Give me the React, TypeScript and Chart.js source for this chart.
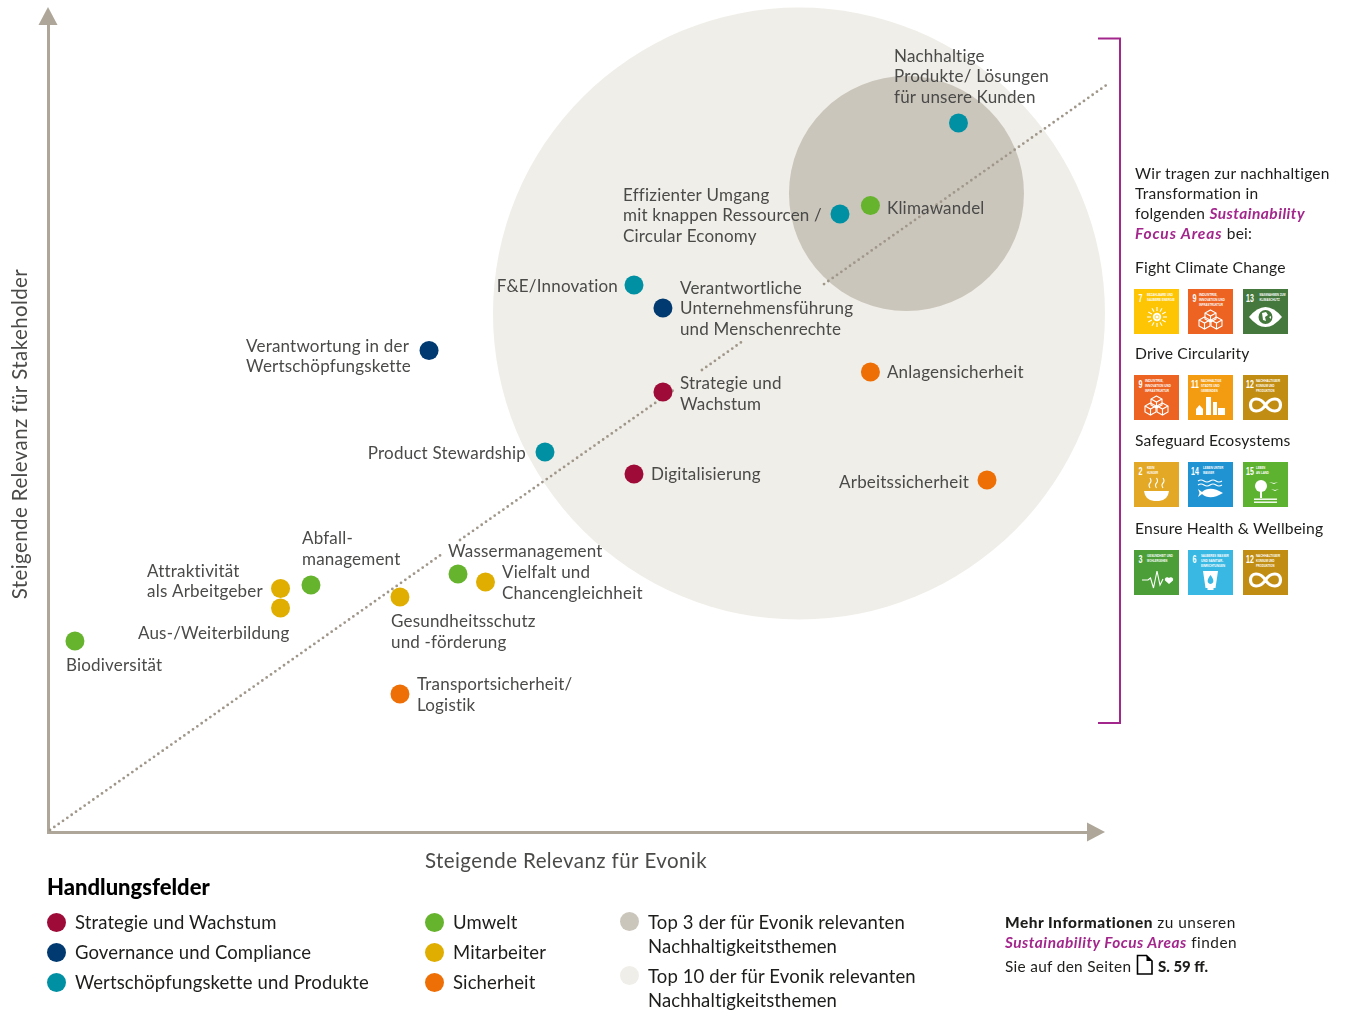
import React, { useEffect, useRef } from "react";
import { Chart, registerables } from "chart.js";

Chart.register(...registerables);

// ---- data (x: Relevanz für Evonik, y: Relevanz für Stakeholder) ----
const fieldNames = ["Strategie und Wachstum", "Governance und Compliance", "Wertschöpfungskette und Produkte", "Umwelt", "Mitarbeiter", "Sicherheit"];

const strategiePoints = [[58.18, 53.4], [55.44, 43.45]];
const strategieLabels = [["Strategie und", "Wachstum"], ["Digitalisierung"]];

const governancePoints = [[58.18, 63.59], [36.05, 58.43]];
const governanceLabels = [["Verantwortliche", "Unternehmensführung", "und Menschenrechte"], ["Verantwortung in der", "Wertschöpfungskette"]];

const wertschoepfungPoints = [[86.14, 86.04], [74.93, 75.0], [55.44, 66.38], [47.02, 46.12]];
const wertschoepfungLabels = [["Nachhaltige", "Produkte/ Lösungen", "für unsere Kunden"], ["Effizienter Umgang", "mit knappen Ressourcen /", "Circular Economy"], ["F&E/Innovation"], ["Product Stewardship"]];

const umweltPoints = [[77.81, 76.03], [38.79, 31.31], [24.88, 29.98], [2.55, 23.18]];
const umweltLabels = [["Klimawandel"], ["Wassermanagement"], ["Abfall-", "management"], ["Biodiversität"]];

const mitarbeiterPoints = [[41.39, 30.34], [22.0, 29.55], [22.0, 27.18], [33.3, 28.52]];
const mitarbeiterLabels = [["Vielfalt und", "Chancengleichheit"], ["Attraktivität", "als Arbeitgeber"], ["Aus-/Weiterbildung"], ["Gesundheitsschutz", "und -förderung"]];

const sicherheitPoints = [[77.81, 55.83], [88.84, 42.72], [33.3, 16.75]];
const sicherheitLabels = [["Anlagensicherheit"], ["Arbeitssicherheit"], ["Transportsicherheit/", "Logistik"]];

const top10Circle = [71.05, 62.92];
const top10Radius = 306;
const top3Circle = [81.22, 77.49];
const top3Radius = 117.5;

const diagonalSegments = [
  [[0.19, 0.24], [37.28, 33.74]],
  [[38.98, 35.44], [59.32, 53.76]],
  [[61.87, 56.07], [65.75, 59.59]],
  [[73.42, 66.5], [100.28, 90.78]],
];

const xAxisTitle = "Steigende Relevanz für Evonik";
const yAxisTitle = "Steigende Relevanz für Stakeholder";
const legendTitle = "Handlungsfelder";
const top3Legend = ["Top 3 der für Evonik relevanten", "Nachhaltigkeitsthemen"];
const top10Legend = ["Top 10 der für Evonik relevanten", "Nachhaltigkeitsthemen"];

const focusAreas = ["Fight Climate Change", "Drive Circularity", "Safeguard Ecosystems", "Ensure Health & Wellbeing"];
const focusGoals = [[7, 9, 13], [9, 11, 12], [2, 14, 15], [3, 6, 12]];
const goalTexts: Record<number, string[]> = {
  2: ["KEIN", "HUNGER"],
  3: ["GESUNDHEIT UND", "WOHLERGEHEN"],
  6: ["SAUBERES WASSER", "UND SANITÄR-", "EINRICHTUNGEN"],
  7: ["BEZAHLBARE UND", "SAUBERE ENERGIE"],
  9: ["INDUSTRIE,", "INNOVATION UND", "INFRASTRUKTUR"],
  11: ["NACHHALTIGE", "STÄDTE UND", "GEMEINDEN"],
  12: ["NACHHALTIGE/R", "KONSUM UND", "PRODUKTION"],
  13: ["MASSNAHMEN ZUM", "KLIMASCHUTZ"],
  14: ["LEBEN UNTER", "WASSER"],
  15: ["LEBEN", "AN LAND"],
};

// ---- styles ----
const fieldColors = ["#9e0b38", "#003a70", "#0090a3", "#66b32e", "#dfae00", "#ee6f05"];
const goalColors: Record<number, string> = { 2: "#e3a826", 3: "#4c9f38", 6: "#38b8e2", 7: "#fdc503", 9: "#ec6322", 11: "#f39c12", 12: "#c18d12", 13: "#44783c", 14: "#2093d3", 15: "#5db22f" };
const goalTextX: Record<number, number> = { 9: 11, 13: 16.5, 14: 15 };
const AXIS = "#aea698";
const TOP10 = "#f0eee8";
const TOP3 = "#cbc6bc";
const PURPLE = "#a3268c";
const LABEL = "#4a4a49";
const INK = "#1d1d1b";
const FONT = "Lato, 'Open Sans', sans-serif";

// label offsets from the point, in pixels: dx, dy of first line, text align
const placements: [number, number, "left" | "right"][][] = [
  [[17, -9, "left"], [17, 0, "left"]],
  [[17, -21, "left"], [-183, -5.5, "left"]],
  [[-64.5, -68, "left"], [-217, -20, "left"], [-16, 0, "right"], [-19, 1, "right"]],
  [[16.5, 1.5, "left"], [-10, -23, "left"], [-9, -47, "left"], [-9, 24, "left"]],
  [[16.5, -10, "left"], [-133.5, -18.5, "left"], [9, 24, "right"], [-9, 24, "left"]],
  [[16.5, 0, "left"], [-18, 2, "right"], [17, -10, "left"]],
];
const allPoints = [strategiePoints, governancePoints, wertschoepfungPoints, umweltPoints, mitarbeiterPoints, sicherheitPoints];
const allLabels = [strategieLabels, governanceLabels, wertschoepfungLabels, umweltLabels, mitarbeiterLabels, sicherheitLabels];

const overlay = {
  id: "overlay",
  afterDatasetsDraw(chart: any) {
    const { ctx, scales, chartArea } = chart;
    const X = scales.x, Y = scales.y;
    ctx.save();
    // arrow heads
    ctx.fillStyle = AXIS;
    const ox = chartArea.left, oy = chartArea.bottom;
    ctx.beginPath();
    ctx.moveTo(ox - 9.5, chartArea.top);
    ctx.lineTo(ox + 9.5, chartArea.top);
    ctx.lineTo(ox, chartArea.top - 18);
    ctx.closePath();
    ctx.fill();
    ctx.beginPath();
    ctx.moveTo(chartArea.right, oy - 9.5);
    ctx.lineTo(chartArea.right, oy + 9.5);
    ctx.lineTo(chartArea.right + 18, oy);
    ctx.closePath();
    ctx.fill();
    // bracket
    ctx.strokeStyle = PURPLE;
    ctx.lineWidth = 2;
    ctx.beginPath();
    ctx.moveTo(1098, 38.5);
    ctx.lineTo(1120, 38.5);
    ctx.lineTo(1120, 723);
    ctx.lineTo(1098, 723);
    ctx.stroke();
    // point labels
    ctx.fillStyle = LABEL;
    ctx.textBaseline = "middle";
    ctx.font = `17px ${FONT}`;
    ctx.letterSpacing = "0.2px";
    allPoints.forEach((pts, f) =>
      pts.forEach((p, i) => {
        const [dx, dy, align] = placements[f][i];
        ctx.textAlign = align;
        allLabels[f][i].forEach((line, l) => {
          ctx.fillText(line, X.getPixelForValue(p[0]) + dx, Y.getPixelForValue(p[1]) + dy + 1 + l * 20.7);
        });
      })
    );
    // axis titles
    ctx.font = `20.5px ${FONT}`;
    ctx.letterSpacing = "0.4px";
    ctx.textAlign = "center";
    ctx.fillText(xAxisTitle, 566, 861);
    ctx.translate(20, 434);
    ctx.rotate(-Math.PI / 2);
    ctx.fillText(yAxisTitle, 0, 0);
    ctx.restore();
  },
};

const abs = (left: number, cy: number, size: number, extra: any = {}) => ({
  position: "absolute" as const,
  left,
  top: cy - size * 0.75,
  lineHeight: `${size * 1.5}px`,
  fontSize: size,
  fontFamily: FONT,
  color: INK,
  whiteSpace: "nowrap" as const,
  ...extra,
});

function Dot({ cx, cy, color }: { cx: number; cy: number; color: string }) {
  return <div style={{ position: "absolute", left: cx - 9.5, top: cy - 9.5, width: 19, height: 19, borderRadius: "50%", background: color }} />;
}

function GoalIcon({ goal }: { goal: number }) {
  const w = { fill: "#fff" };
  const s = { fill: "none", stroke: "#fff", strokeWidth: 1.1 };
  if (goal === 7)
    return (
      <g>
        <circle cx="23" cy="28" r="4.2" {...w} />
        <circle cx="23" cy="28" r="2" fill="none" stroke="#fdc503" strokeWidth="0.7" />
        <g stroke="#fff" strokeWidth="1.1">
          {[0, 30, 60, 90, 120, 150, 180, 210, 240, 270, 300, 330].map((a) => (
            <line key={a} x1={23 + 6 * Math.cos((a * Math.PI) / 180)} y1={28 + 6 * Math.sin((a * Math.PI) / 180)} x2={23 + 10 * Math.cos((a * Math.PI) / 180)} y2={28 + 10 * Math.sin((a * Math.PI) / 180)} />
          ))}
        </g>
      </g>
    );
  if (goal === 9)
    return (
      <g {...s}>
        {[[22.5, 25], [16.5, 32], [28.5, 32]].map(([x, y]) => (
          <g key={`${x}${y}`}>
            <path d={`M${x} ${y - 4}l5.5 3v6l-5.5 3l-5.5-3v-6z`} />
            <path d={`M${x - 5.5} ${y - 1}l5.5 3l5.5-3M${x} ${y + 2}v6`} />
          </g>
        ))}
      </g>
    );
  if (goal === 13)
    return (
      <g>
        <path d="M6 28Q22.5 8 39 28Q22.5 48 6 28z" {...w} />
        <circle cx="22.5" cy="28" r="7" fill="#44783c" />
        <path d="M19 24l4-1l2 3l-3 2l1 4l-3-1zM26 28l2-1v3z" {...w} />
      </g>
    );
  if (goal === 11)
    return (
      <g {...w}>
        <rect x="8" y="34" width="7" height="6" />
        <path d="M8 34l3.5-4l3.5 4z" />
        <rect x="18" y="22" width="5" height="18" />
        <rect x="25" y="27" width="4" height="13" />
        <rect x="30" y="33" width="7" height="7" />
      </g>
    );
  if (goal === 12)
    return <path d="M22.5 30C17 21.5 7.5 22.5 7.5 30C7.5 37.5 17 38.5 22.5 30C28 21.5 37.5 22.5 37.5 30C37.5 37.5 28 38.5 22.5 30" fill="none" stroke="#fff" strokeWidth="3.2" />;
  if (goal === 2)
    return (
      <g>
        <path d="M10 29h25Q34 38 25 39h-5Q11 38 10 29z" {...w} />
        <path d="M16 26q-2-3 0-5t0-5M22.5 26q-2-3 0-5t0-5M29 26q-2-3 0-5t0-5" {...s} />
      </g>
    );
  if (goal === 14)
    return (
      <g>
        <path d="M10 19q3-2 6 0t6 0t6 0t6 0M10 23q3-2 6 0t6 0t6 0t6 0" {...s} />
        <path d="M10 27l4 3Q22 23 35 31Q22 39 14 32l-4 3l1.5-4z" {...w} />
      </g>
    );
  if (goal === 15)
    return (
      <g {...w}>
        <circle cx="18" cy="24" r="6" />
        <rect x="17" y="27" width="2" height="9" />
        <rect x="11" y="36.5" width="23" height="1.4" />
        <rect x="11" y="39.5" width="23" height="1.4" />
        <path d="M26 20l5 1l4-1l-4 2zM28 27l4 1l4-1l-4 2z" />
      </g>
    );
  if (goal === 3)
    return (
      <g>
        <path d="M8 30h6l2.5-2l3 10l3.5-17l3 14l3-6" {...s} />
        <path d="M35 34l-4-3.5a2.4 2.4 0 0 1 4-2.5a2.4 2.4 0 0 1 4 2.5z" {...w} />
      </g>
    );
  // goal 6
  return (
    <g>
      <path d="M15 21h15l-2.5 17h-2v2h-6v-2h-2z" {...w} />
      <path d="M22.5 25q4 5 2.5 7.5a2.9 2.9 0 0 1-5 0q-1.5-2.5 2.5-7.5z" fill="#38b8e2" />
    </g>
  );
}

function GoalTile({ goal, left, top }: { goal: number; left: number; top: number }) {
  const big = goal >= 10;
  const narrow = "'Liberation Sans Narrow', sans-serif";
  return (
    <svg width="45" height="45" viewBox="0 0 45 45" style={{ position: "absolute", left, top }}>
      <rect width="45" height="45" fill={goalColors[goal]} />
      <text x={big ? 3 : 4.5} y="12.7" fill="#fff" fontFamily={narrow} fontWeight="700" fontSize="11.5" textLength={big ? 7.8 : 4} lengthAdjust="spacingAndGlyphs">{goal}</text>
      {goalTexts[goal].map((t, i) => (
        <text key={i} x={goalTextX[goal] ?? 13} y={6.6 + i * 5.3} fill="#fff" fontFamily={narrow} fontWeight="700" fontSize="4" textLength={t.length * 1.85} lengthAdjust="spacingAndGlyphs">{t}</text>
      ))}
      <GoalIcon goal={goal} />
    </svg>
  );
}

export default function App() {
  const ref = useRef<HTMLCanvasElement>(null);
  useEffect(() => {
    const bubble = (pts: number[][], color: string, r: number, order: number, label: string) => ({
      type: "bubble" as const,
      label,
      data: pts.map(([x, y]) => ({ x, y, r })),
      backgroundColor: color,
      borderWidth: 0,
      hoverBorderWidth: 0,
      clip: false,
      order,
    });
    const diagonal: any[] = [];
    diagonalSegments.forEach((seg, i) => {
      if (i) diagonal.push({ x: seg[0][0], y: NaN });
      seg.forEach(([x, y]) => diagonal.push({ x, y }));
    });
    const chart = new Chart(ref.current!, {
      type: "bubble",
      data: {
        datasets: [
          bubble([top10Circle], TOP10, top10Radius, 5, "Top 10"),
          bubble([top3Circle], TOP3, top3Radius, 4, "Top 3"),
          {
            type: "line",
            label: "Diagonale",
            data: diagonal,
            borderColor: "#a0978b",
            borderWidth: 2.8,
            borderDash: [0, 5.3],
            borderCapStyle: "round",
            pointRadius: 0,
            spanGaps: false,
            clip: false,
            order: 3,
          },
          ...allPoints.map((pts, i) => bubble(pts, fieldColors[i], 9.5, 1, fieldNames[i])),
        ] as any,
      },
      options: {
        animation: false,
        responsive: false,
        events: [],
        layout: { autoPadding: false, padding: { left: 48, right: 263, top: 25, bottom: 178 } },
        plugins: { legend: { display: false }, tooltip: { enabled: false } },
        scales: {
          x: { type: "linear", min: 0, max: 98.3, afterFit: (s: any) => { s.height = 0; }, grid: { display: false }, ticks: { display: false }, border: { display: true, color: AXIS, width: 3 } },
          y: { type: "linear", min: 0, max: 97.94, afterFit: (s: any) => { s.width = 0; }, grid: { display: false }, ticks: { display: false }, border: { display: true, color: AXIS, width: 3 } },
        },
      },
      plugins: [overlay],
    } as any);
    return () => chart.destroy();
  }, []);

  const rowTops = [289, 375, 462, 550];
  const focusY = [268, 354, 441, 529];
  const colX = [1134, 1188, 1243];
  const legendCols = [[0, 1, 2], [3, 4, 5]];
  const legendY = [922.5, 952.5, 982.5];
  const note = { letterSpacing: "0.25px" };
  const wide = { letterSpacing: "0.5px" };
  const item = { letterSpacing: "0.12px" };
  const focusWord = { color: PURPLE, fontStyle: "italic", letterSpacing: "0.45px" };

  return (
    <div style={{ position: "absolute", left: 0, top: 0, width: 1350, height: 1010, overflow: "hidden", background: "#fff" }}>
      <canvas ref={ref} width={1350} height={1010} style={{ position: "absolute", left: 0, top: 0, display: "block" }} />

      <div style={abs(1135, 174, 15.5, note)}>Wir tragen zur nachhaltigen</div>
      <div style={abs(1135, 194, 15.5, note)}>Transformation in</div>
      <div style={abs(1135, 214, 15.5, note)}>
        folgenden <b style={focusWord}>Sustainability</b>
      </div>
      <div style={abs(1135, 234, 15.5, note)}>
        <b style={{ ...focusWord, letterSpacing: "0.9px" }}>Focus Areas</b> bei:
      </div>
      {focusAreas.map((t, i) => (
        <div key={t} style={abs(1135, focusY[i], 15.7, { letterSpacing: "0.15px" })}>{t}</div>
      ))}
      {focusGoals.map((row, r) => row.map((g, c) => <GoalTile key={`${r}-${c}`} goal={g} left={colX[c]} top={rowTops[r]} />))}

      <div style={abs(47, 886, 22, { fontWeight: 900, color: "#000" })}>{legendTitle}</div>
      {legendCols.map((col, c) =>
        col.map((f, i) => (
          <React.Fragment key={f}>
            <Dot cx={c ? 434 : 56} cy={legendY[i]} color={fieldColors[f]} />
            <div style={abs(c ? 453 : 75, legendY[i], 18.5, item)}>{fieldNames[f]}</div>
          </React.Fragment>
        ))
      )}
      <Dot cx={629} cy={921.5} color={TOP3} />
      <Dot cx={629} cy={975.5} color={TOP10} />
      <div style={abs(648, 923, 18.5, item)}>{top3Legend[0]}</div>
      <div style={abs(648, 947, 18.5, item)}>{top3Legend[1]}</div>
      <div style={abs(648, 977, 18.5, item)}>{top10Legend[0]}</div>
      <div style={abs(648, 1001, 18.5, item)}>{top10Legend[1]}</div>

      <div style={abs(1005, 923, 15.4, wide)}>
        <b style={{ fontWeight: 900 }}>Mehr Informationen</b> zu unseren
      </div>
      <div style={abs(1005, 943, 15.4, wide)}>
        <b style={{ color: PURPLE, fontStyle: "italic" }}>Sustainability Focus Areas</b> finden
      </div>
      <div style={abs(1005, 966.5, 15.4, { letterSpacing: "0.3px" })}>Sie auf den Seiten</div>
      <svg width="18" height="22" style={{ position: "absolute", left: 1136, top: 954 }}>
        <path d="M1.5 1.5h9l5.5 5.5v13h-14.5z" fill="#fff" stroke="#000" strokeWidth="1.6" />
        <path d="M10.5 1.5l5.5 5.5h-5.5z" fill="#000" />
      </svg>
      <div style={abs(1158, 966.5, 15, { fontWeight: 900 })}>S. 59 ff.</div>
    </div>
  );
}
